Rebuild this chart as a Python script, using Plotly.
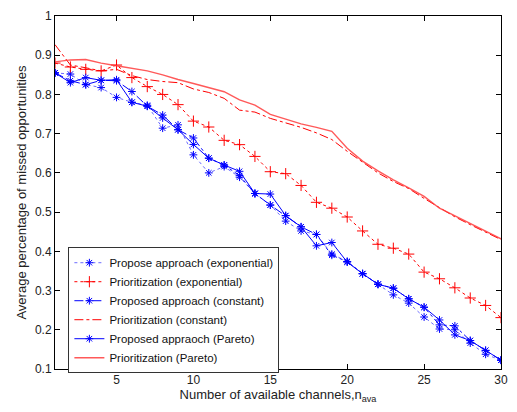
import plotly.graph_objects as go

n_ava = list(range(1, 31))

prop_exp = [0.855, 0.852, 0.825, 0.8175, 0.7925, 0.78, 0.7725, 0.714, 0.7225, 0.646,
            0.600, 0.616, 0.589, 0.5475, 0.518, 0.477, 0.452, 0.443, 0.393, 0.374,
            0.343, 0.316, 0.289, 0.268, 0.2325, 0.202, 0.200, 0.166, 0.1375, 0.1225]
prio_exp = [0.880, 0.870, 0.864, 0.860, 0.875, 0.843, 0.820, 0.800, 0.774, 0.732,
            0.717, 0.683, 0.672, 0.642, 0.603, 0.598, 0.568, 0.525, 0.510, 0.4875,
            0.452, 0.418, 0.408, 0.393, 0.347, 0.330, 0.307, 0.281, 0.262, 0.231]
prop_const = [0.855, 0.835, 0.825, 0.836, 0.835, 0.8075, 0.770, 0.7475, 0.710, 0.689,
              0.6375, 0.620, 0.593, 0.5475, 0.518, 0.491, 0.4625, 0.443, 0.390, 0.374,
              0.343, 0.316, 0.306, 0.279, 0.2575, 0.2125, 0.210, 0.1725, 0.1475, 0.1225]
prio_const = [0.927, 0.875, 0.868, 0.860, 0.864, 0.848, 0.838, 0.833, 0.830, 0.814,
              0.805, 0.790, 0.760, 0.755, 0.739, 0.728, 0.716, 0.702, 0.685, 0.655,
              0.628, 0.600, 0.578, 0.560, 0.535, 0.512, 0.488, 0.468, 0.450, 0.430]
prop_par = [0.855, 0.830, 0.843, 0.836, 0.8375, 0.780, 0.770, 0.740, 0.710, 0.6725,
            0.6375, 0.620, 0.604, 0.5475, 0.546, 0.491, 0.4625, 0.414, 0.4225, 0.3725,
            0.343, 0.316, 0.306, 0.279, 0.2575, 0.225, 0.187, 0.1725, 0.1475, 0.1225]
prio_par = [0.883, 0.888, 0.889, 0.880, 0.873, 0.866, 0.860, 0.850, 0.838, 0.828,
            0.818, 0.807, 0.786, 0.773, 0.749, 0.737, 0.725, 0.716, 0.706, 0.663,
            0.630, 0.605, 0.582, 0.562, 0.540, 0.510, 0.490, 0.470, 0.452, 0.432]

names = ["Propose approach (exponential)", "Prioritization (exponential)",
         "Proposed approach (constant)", "Prioritization (constant)",
         "Proposed appraoch (Pareto)", "Prioritization (Pareto)"]

BLUE = "#0000ff"
RED = "#ff0000"
star = dict(symbol="asterisk-open", size=6.5, color=BLUE, line=dict(color=BLUE, width=1))

fig = go.Figure()
fig.add_trace(go.Scatter(x=n_ava, y=prop_exp, name=names[0], mode="lines+markers",
                         line=dict(color="rgba(80,80,255,0.85)", width=1, dash="dot"),
                         marker=star))
fig.add_trace(go.Scatter(x=n_ava, y=prio_exp, name=names[1], mode="lines+markers",
                         line=dict(color=RED, width=1, dash="dot"),
                         marker=dict(symbol="cross-thin-open", size=8, color=RED,
                                     line=dict(color=RED, width=1))))
fig.add_trace(go.Scatter(x=n_ava, y=prop_const, name=names[2], mode="lines+markers",
                         line=dict(color=BLUE, width=1, dash="dashdot"),
                         marker=star))
fig.add_trace(go.Scatter(x=n_ava, y=prio_const, name=names[3], mode="lines",
                         line=dict(color=RED, width=1, dash="dashdot")))
fig.add_trace(go.Scatter(x=n_ava, y=prop_par, name=names[4], mode="lines+markers",
                         line=dict(color=BLUE, width=1),
                         marker=star))
fig.add_trace(go.Scatter(x=n_ava, y=prio_par, name=names[5], mode="lines",
                         line=dict(color="rgba(255,60,60,0.85)", width=1.4)))

axis_common = dict(showgrid=False, zeroline=False, showline=True, linecolor="black",
                   linewidth=1, mirror="ticks", ticks="inside", ticklen=5,
                   tickcolor="black", tickfont=dict(size=12, color="#222"))

fig.update_layout(
    width=517, height=412,
    margin=dict(l=55, r=15, t=9, b=43),
    paper_bgcolor="white", plot_bgcolor="white",
    font=dict(family="Liberation Sans, Arial, sans-serif", size=12, color="#222"),
    xaxis=dict(range=[1, 30], tickvals=[5, 10, 15, 20, 25, 30],
               title=dict(text="Number of available channels,n<sub>ava</sub>",
                          standoff=1, font=dict(size=13)),
               **axis_common),
    yaxis=dict(range=[0.1, 1], tickvals=[0.1, 0.2, 0.3, 0.4, 0.5, 0.6, 0.7, 0.8, 0.9, 1],
               ticktext=["0.1", "0.2", "0.3", "0.4", "0.5", "0.6", "0.7", "0.8", "0.9", "1"],
               title=dict(text="Average percentage of missed opportunities",
                          standoff=5, font=dict(size=13)),
               **axis_common),
    legend=dict(x=0.03, y=0.345, xanchor="left", yanchor="top",
                bgcolor="white", bordercolor="#333", borderwidth=1,
                font=dict(size=11.5, color="#111"), tracegroupgap=0,
                itemwidth=30),
    showlegend=True,
)

fig.write_html("out.html")
